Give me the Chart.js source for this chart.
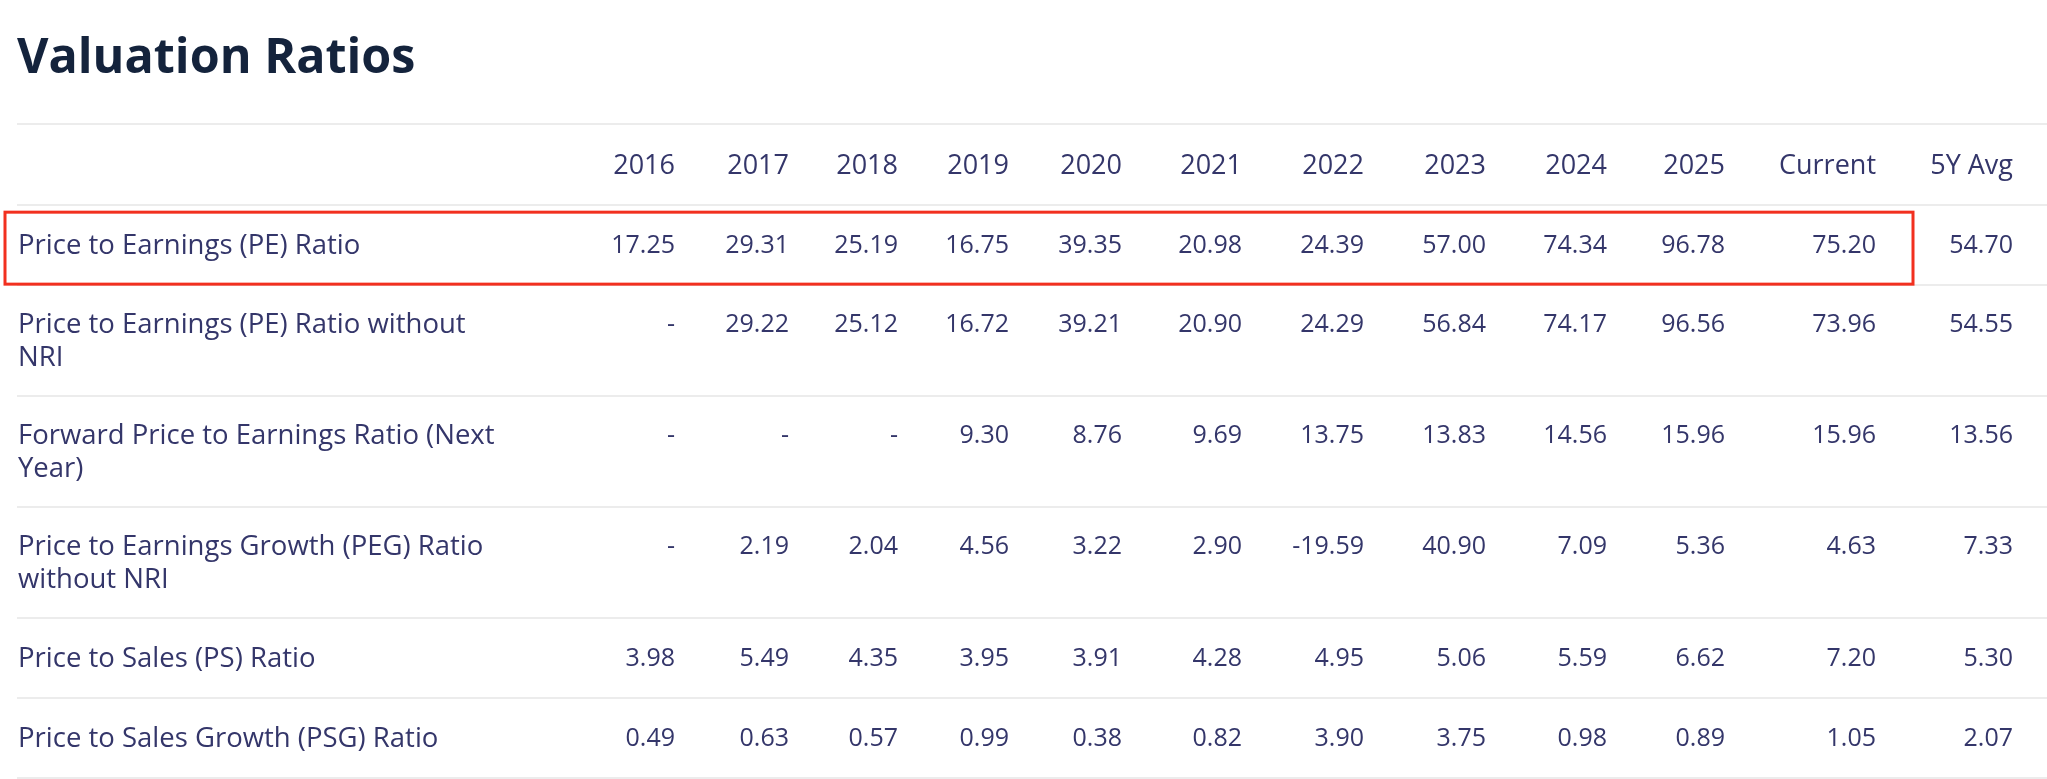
<!DOCTYPE html>
<html>
<head>
<meta charset="utf-8">
<title>Valuation Ratios</title>
<script src="https://cdn.jsdelivr.net/npm/chart.js@4.4.1/dist/chart.umd.min.js"></script>
<style>
  html, body { margin: 0; padding: 0; background: #ffffff; }
  #wrap { position: relative; width: 2047px; height: 779px; }
</style>
</head>
<body>
<div id="wrap"><canvas id="ratiosTable"></canvas></div>
<script>
// Columnas y filas de la tabla
const periods = ['2016', '2017', '2018', '2019', '2020', '2021', '2022', '2023', '2024', '2025', 'Current', '5Y Avg'];
const metrics = [
    'Price to Earnings (PE) Ratio',
    'Price to Earnings (PE) Ratio without NRI',
    'Forward Price to Earnings Ratio (Next Year)',
    'Price to Earnings Growth (PEG) Ratio without NRI',
    'Price to Sales (PS) Ratio',
    'Price to Sales Growth (PSG) Ratio'
];

// Valores (null = "-")
const peRatio       = [17.25, 29.31, 25.19, 16.75, 39.35, 20.98, 24.39, 57.00, 74.34, 96.78, 75.20, 54.70];
const peRatioNoNri  = [null, 29.22, 25.12, 16.72, 39.21, 20.90, 24.29, 56.84, 74.17, 96.56, 73.96, 54.55];
const forwardPe     = [null, null, null, 9.30, 8.76, 9.69, 13.75, 13.83, 14.56, 15.96, 15.96, 13.56];
const pegRatioNoNri = [null, 2.19, 2.04, 4.56, 3.22, 2.90, -19.59, 40.90, 7.09, 5.36, 4.63, 7.33];
const psRatio       = [3.98, 5.49, 4.35, 3.95, 3.91, 4.28, 4.95, 5.06, 5.59, 6.62, 7.20, 5.30];
const psgRatio      = [0.49, 0.63, 0.57, 0.99, 0.38, 0.82, 3.90, 3.75, 0.98, 0.89, 1.05, 2.07];

const rows = [peRatio, peRatioNoNri, forwardPe, pegRatioNoNri, psRatio, psgRatio];
const highlightRow = 0;

// Estilo / layout de la tabla
const labelFont = '27.5px "Open Sans"';
const headerFont = '27px "Open Sans"';
const valueFont = '25px "Open Sans"';
const textColor = '#34366a';
const lineColor = '#ececec';
const labelColWidth = 560;
const colWidths = [98, 114, 109, 111, 113, 120, 122, 122, 121, 118, 151, 137];
const labelMaxWidth = 488;
const headerHeight = 81;
const lineHeight = 33;

// fin de cada columna (alineado a la derecha)
const colEnd = [];
let acc = labelColWidth;
colWidths.forEach(function(w) { acc += w; colEnd.push(acc); });

// cortar las etiquetas largas en lineas
const measureCtx = document.createElement('canvas').getContext('2d');
measureCtx.font = labelFont;
function wrapLabel(text) {
    const words = text.split(' ');
    const lines = [];
    let current = '';
    words.forEach(function(w) {
        const test = current ? current + ' ' + w : w;
        if (current && measureCtx.measureText(test).width > labelMaxWidth) {
            lines.push(current);
            current = w;
        } else {
            current = test;
        }
    });
    lines.push(current);
    return lines;
}
const labelLines = metrics.map(wrapLabel);

// alto de cada fila segun cantidad de lineas
const rowTop = [];
const rowHeight = [];
let y0 = headerHeight;
labelLines.forEach(function(lines) {
    const h = 49 + 31 * lines.length;
    rowTop.push(y0);
    rowHeight.push(h);
    y0 += h;
});
const tableHeight = y0;

function firstLineY(i) {
    const n = labelLines[i].length;
    return rowTop[i] + rowHeight[i] / 2 - (n - 1) * lineHeight / 2;
}

function formatValue(v) {
    return v === null ? '-' : v.toFixed(2);
}

const datasets = rows.map(function(values, i) {
    return {
        label: metrics[i],
        data: values.map(function(v, j) { return { x: colEnd[j], y: firstLineY(i) }; }),
        pointRadius: 0,
        showLine: false
    };
});

const tablePlugin = {
    id: 'tablePlugin',
    afterDatasetsDraw: function(chart) {
        const ctx = chart.ctx;
        const xs = chart.scales.x;
        const ys = chart.scales.y;
        ctx.save();

        // lineas horizontales
        ctx.strokeStyle = lineColor;
        ctx.lineWidth = 2;
        const bounds = [0].concat(rowTop, [tableHeight]);
        bounds.forEach(function(b) {
            const py = Math.round(ys.getPixelForValue(b)) - 1;
            ctx.beginPath();
            ctx.moveTo(xs.getPixelForValue(0), py);
            ctx.lineTo(chart.width, py);
            ctx.stroke();
        });

        ctx.fillStyle = textColor;
        ctx.textBaseline = 'middle';

        // encabezados
        ctx.font = headerFont;
        ctx.textAlign = 'right';
        periods.forEach(function(p, j) {
            ctx.fillText(p, xs.getPixelForValue(colEnd[j]), ys.getPixelForValue(headerHeight / 2) + 1);
        });

        // etiquetas de filas
        ctx.font = labelFont;
        ctx.textAlign = 'left';
        labelLines.forEach(function(lines, i) {
            lines.forEach(function(line, k) {
                ctx.fillText(line, xs.getPixelForValue(1), ys.getPixelForValue(firstLineY(i) + k * lineHeight));
            });
        });

        // valores
        ctx.font = valueFont;
        ctx.textAlign = 'right';
        rows.forEach(function(values, i) {
            const meta = chart.getDatasetMeta(i);
            meta.data.forEach(function(pt, j) {
                ctx.fillText(formatValue(values[j]), pt.x, pt.y);
            });
        });

        // recuadro rojo de la fila destacada
        const top = ys.getPixelForValue(rowTop[highlightRow]) + 6;
        const bottom = ys.getPixelForValue(rowTop[highlightRow] + rowHeight[highlightRow]) - 2;
        const left = xs.getPixelForValue(-12);
        const right = xs.getPixelForValue(colEnd[10] + 37);
        ctx.strokeStyle = '#f2301f';
        ctx.lineWidth = 3;
        ctx.strokeRect(left, top, right - left, bottom - top);

        ctx.restore();
    }
};

const ctx = document.getElementById('ratiosTable').getContext('2d');
new Chart(ctx, {
    type: 'scatter',
    data: { datasets: datasets },
    options: {
        responsive: true,
        maintainAspectRatio: false,
        animation: false,
        events: [],
        layout: { padding: { left: 17, right: 0, top: 0, bottom: 0 } },
        scales: {
            x: { type: 'linear', display: false, min: 0, max: 2030 },
            y: { type: 'linear', display: false, reverse: true, min: 0, max: tableHeight }
        },
        plugins: {
            legend: { display: false },
            tooltip: { enabled: false },
            title: {
                display: true,
                text: 'Valuation Ratios',
                align: 'start',
                color: '#14233c',
                font: { family: '"Open Sans"', size: 48.5, weight: 'bold', lineHeight: 1.2 },
                padding: { top: 30, bottom: 37 }
            }
        }
    },
    plugins: [tablePlugin]
});
</script>
</body>
</html>
